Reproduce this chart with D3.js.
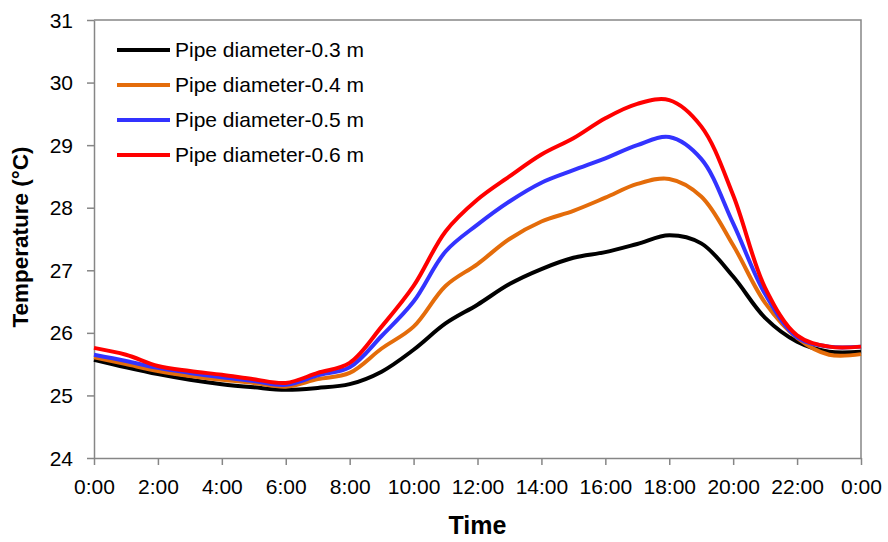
<!DOCTYPE html>
<html>
<head>
<meta charset="utf-8">
<script src="https://cdn.jsdelivr.net/npm/d3@7"></script>
<style>
  body { margin: 0; background: #fff; }
  text { font-family: Arial, "Liberation Sans", sans-serif; }
</style>
</head>
<body>
<div id="chart"></div>
<script>
// hours of the day (0..24)
var hours = d3.range(0, 25);

// temperatures, one value per hour
var d03 = [25.57, 25.45, 25.34, 25.25, 25.18, 25.13, 25.09, 25.12, 25.18, 25.38, 25.73, 26.15, 26.45,
           26.78, 27.02, 27.2, 27.29, 27.42, 27.56, 27.43, 26.9, 26.24, 25.86, 25.7, 25.7];
var d04 = [25.61, 25.5, 25.39, 25.31, 25.25, 25.2, 25.14, 25.26, 25.36, 25.75, 26.1, 26.75, 27.1,
           27.5, 27.78, 27.95, 28.16, 28.38, 28.46, 28.18, 27.4, 26.48, 25.92, 25.65, 25.66];
var d05 = [25.65, 25.55, 25.44, 25.36, 25.29, 25.23, 25.17, 25.32, 25.45, 25.95, 26.5, 27.3, 27.73,
           28.1, 28.4, 28.6, 28.79, 29.0, 29.13, 28.78, 27.75, 26.62, 25.93, 25.78, 25.78];
var d06 = [25.76, 25.65, 25.47, 25.39, 25.33, 25.26, 25.2, 25.36, 25.52, 26.1, 26.75, 27.62, 28.13,
           28.5, 28.85, 29.11, 29.43, 29.66, 29.72, 29.3, 28.2, 26.72, 25.96, 25.78, 25.78];

var seriesNames = ["Pipe diameter-0.3 m", "Pipe diameter-0.4 m", "Pipe diameter-0.5 m", "Pipe diameter-0.6 m"];
var seriesColors = ["#000000", "#E46C0A", "#3333FF", "#FF0000"];
var seriesData = [d03, d04, d05, d06];

var xTicks = d3.range(0, 25, 2);
var yTicks = d3.range(24, 32, 1);

// set the dimensions and margins of the graph
var margin = {top: 20, right: 27, bottom: 84, left: 94},
    width = 888 - margin.left - margin.right,
    height = 542 - margin.top - margin.bottom;

var x = d3.scaleLinear().domain([0, 24]).range([0, width]);
var y = d3.scaleLinear().domain([24, 31]).range([height, 0]);

var svg = d3.select("#chart").append("svg")
    .attr("width", 888)
    .attr("height", 542)
  .append("g")
    .attr("transform", "translate(" + margin.left + "," + margin.top + ")");

var axisColor = "#868686";

// plot frame (top and right)
svg.append("path")
    .attr("d", "M0,0H" + width + "V" + height)
    .attr("fill", "none")
    .attr("stroke", axisColor)
    .attr("stroke-width", 1.5);

// X axis
var xAxis = svg.append("g")
    .attr("transform", "translate(0," + height + ")")
    .call(d3.axisBottom(x)
        .tickValues(xTicks)
        .tickSizeInner(7)
        .tickSizeOuter(0)
        .tickPadding(14)
        .tickFormat(function(d) { return (d % 24) + ":00"; }));

// Y axis
var yAxis = svg.append("g")
    .call(d3.axisLeft(y)
        .tickValues(yTicks)
        .tickSizeInner(7)
        .tickSizeOuter(0)
        .tickPadding(14)
        .tickFormat(d3.format("d")));

[xAxis, yAxis].forEach(function(a) {
  a.select(".domain").attr("stroke", axisColor).attr("stroke-width", 1.5);
  a.selectAll(".tick line").attr("stroke", axisColor).attr("stroke-width", 1.5);
  a.selectAll(".tick text")
      .style("font-size", "21px")
      .style("font-family", "Arial, 'Liberation Sans', sans-serif")
      .attr("fill", "#000");
});
yAxis.selectAll(".tick text").attr("dy", "0.34em");

// lines
var line = d3.line()
    .x(function(d, i) { return x(hours[i]); })
    .y(function(d) { return y(d); })
    .curve(d3.curveCatmullRom.alpha(0.5));

seriesData.forEach(function(s, k) {
  svg.append("path")
      .datum(s)
      .attr("fill", "none")
      .attr("stroke", seriesColors[k])
      .attr("stroke-width", 4)
      .attr("stroke-linejoin", "round")
      .attr("d", line);
});

// legend
var legend = svg.append("g").attr("transform", "translate(23,30)");
seriesNames.forEach(function(n, k) {
  var g = legend.append("g").attr("transform", "translate(0," + (k * 35) + ")");
  g.append("line")
      .attr("x1", 0).attr("x2", 53)
      .attr("stroke", seriesColors[k])
      .attr("stroke-width", 4);
  g.append("text")
      .attr("x", 58)
      .attr("dy", "0.35em")
      .style("font-size", "21px")
      .text(n);
});

// axis titles
svg.append("text")
    .attr("x", width / 2)
    .attr("y", height + 76)
    .attr("text-anchor", "middle")
    .style("font-size", "25px")
    .style("font-weight", "bold")
    .text("Time");

svg.append("text")
    .attr("transform", "translate(" + (-66) + "," + (height / 2 - 2) + ") rotate(-90)")
    .attr("text-anchor", "middle")
    .style("font-size", "22.5px")
    .style("font-weight", "bold")
    .text("Temperature (\u00B0C)");
</script>
</body>
</html>
